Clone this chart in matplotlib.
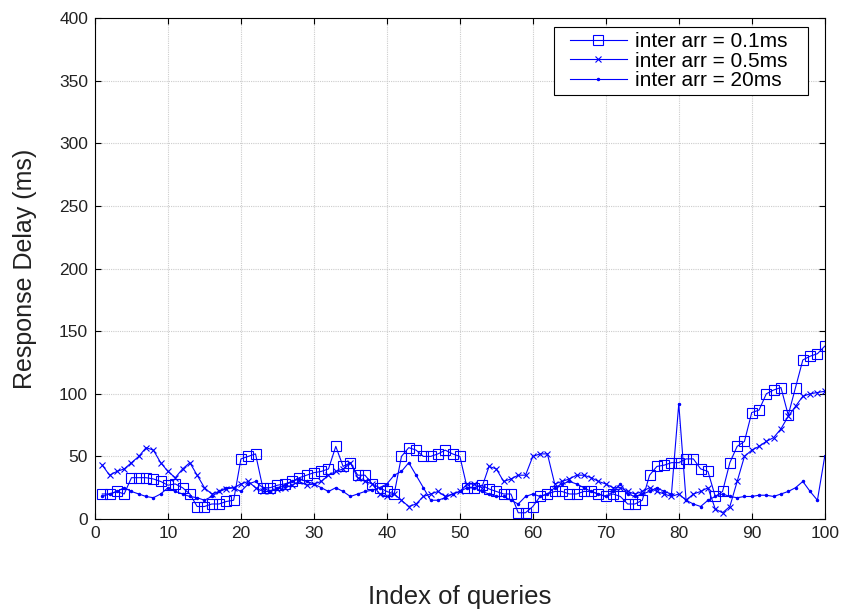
import numpy as np
import matplotlib
matplotlib.use("Agg")
import matplotlib.pyplot as plt
from matplotlib.patches import Rectangle

plt.rcParams['font.family'] = ['Liberation Sans', 'DejaVu Sans']

queries = list(range(1, 101))

delay_01ms = [20, 20, 22, 20, 33, 33, 33, 32, 30, 27,
              28, 25, 20, 10, 10, 12, 12, 14, 15, 48,
              50, 52, 25, 25, 27, 28, 30, 33, 35, 37,
              38, 40, 58, 42, 45, 35, 35, 28, 25, 22,
              20, 50, 57, 55, 50, 50, 52, 55, 52, 50,
              25, 25, 27, 24, 22, 20, 20, 5, 5, 10,
              18, 20, 22, 22, 20, 20, 22, 22, 20, 18,
              20, 18, 12, 12, 15, 35, 42, 43, 45, 45,
              48, 48, 40, 38, 18, 22, 45, 58, 62, 85,
              87, 100, 103, 105, 83, 105, 127, 130, 132, 138]

delay_05ms = [43, 35, 38, 40, 45, 50, 57, 55, 45, 38,
              33, 40, 45, 35, 25, 20, 22, 24, 25, 28,
              30, 25, 22, 22, 24, 25, 27, 30, 27, 28,
              30, 35, 38, 40, 45, 33, 30, 28, 20, 18,
              20, 15, 10, 12, 18, 20, 22, 18, 20, 22,
              28, 28, 25, 42, 40, 30, 32, 35, 35, 50,
              52, 52, 28, 30, 32, 35, 35, 33, 30, 28,
              25, 25, 22, 20, 22, 25, 22, 20, 18, 20,
              15, 20, 22, 25, 8, 5, 10, 30, 50, 55,
              58, 62, 65, 72, 82, 90, 98, 100, 101, 102]

delay_20ms = [18, 20, 22, 25, 22, 20, 18, 17, 20, 25,
              22, 20, 18, 17, 15, 18, 22, 25, 25, 22,
              28, 30, 25, 22, 25, 27, 30, 32, 30, 28,
              25, 22, 25, 22, 18, 20, 22, 23, 25, 28,
              35, 38, 45, 35, 25, 15, 15, 17, 20, 22,
              25, 25, 22, 20, 18, 18, 15, 12, 18, 20,
              18, 20, 25, 28, 30, 28, 25, 22, 20, 18,
              22, 28, 20, 18, 20, 22, 25, 22, 20, 92,
              15, 12, 10, 15, 18, 20, 18, 17, 18, 18,
              19, 19, 18, 20, 22, 25, 30, 22, 15, 50]

labels = ['inter arr = 0.1ms', 'inter arr = 0.5ms', 'inter arr = 20ms']

fig = plt.figure(figsize=(8.45, 6.13), dpi=100)
ax = fig.add_axes([0.1124, 0.1533, 0.8636, 0.8173])

blue = '#0000ff'
ax.plot(queries, delay_01ms, color=blue, lw=0.8, marker='s', ms=6.5,
        mfc='none', mec=blue, mew=0.8, label=labels[0])
ax.plot(queries, delay_05ms, color=blue, lw=0.8, marker='x', ms=4,
        mew=0.8, label=labels[1])
ax.plot(queries, delay_20ms, color=blue, lw=0.8, marker='.', ms=3,
        label=labels[2])

ax.set_xlim(0, 100)
ax.set_ylim(0, 400)
ax.set_xticks(range(0, 101, 10))
ax.set_yticks(range(0, 401, 50))
ax.grid(True, color='#cccccc', lw=0.8, ls=(0, (1, 1)))
ax.tick_params(direction='in', top=True, right=True, labelsize=12.5,
               length=4, labelcolor='#222222', pad=5)
for s in ax.spines.values():
    s.set_linewidth(0.8)

ax.set_xlabel('Index of queries', fontsize=18.5, labelpad=32, color='#222222')
ax.set_ylabel('Response Delay (ms)', fontsize=18, labelpad=16, color='#222222')

leg = ax.legend(loc='upper right', fontsize=15, handlelength=2.75,
                borderpad=0.25, labelspacing=0.02, handletextpad=0.38,
                frameon=False, borderaxespad=0,
                bbox_to_anchor=(0.956, 0.982))
leg.set_zorder(6)

# MATLAB-style legend box: wider horizontal margins than vertical ones
fig.canvas.draw()
bb = leg.get_window_extent()
box = Rectangle((bb.x0 - 10, bb.y0), bb.width + 25, bb.height,
                transform=None, facecolor='white', edgecolor='black',
                lw=0.8, zorder=5.5, clip_on=False)
ax.add_patch(box)

fig.savefig('out.png', dpi=100)
